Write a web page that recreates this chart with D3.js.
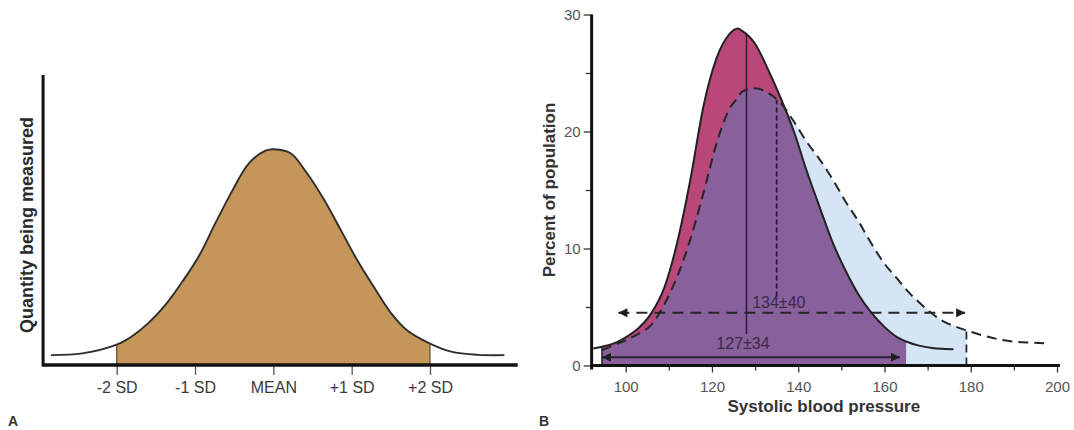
<!DOCTYPE html>
<html>
<head>
    <title>Normal distribution and systolic blood pressure</title>
    <script src="https://d3js.org/d3.v7.min.js"></script>
    <style>
        body {
            margin: 0;
            background: #fff;
            font-family: "Liberation Sans", Arial, sans-serif;
        }
        .tick text { font-family: "Liberation Sans", Arial, sans-serif; }
        .panel-letter { font-size: 14px; font-weight: bold; fill: #333; }
        .axis-title { font-size: 17px; font-weight: bold; fill: #333; }
    </style>
</head>
<body>
    <div id="chart"></div>
    <script>
        // Panel A: bell curve (x in SD units, y in % of axis height)
        const sdTicks = [-2, -1, 0, 1, 2];
        const sdLabels = ['-2 SD', '-1 SD', 'MEAN', '+1 SD', '+2 SD'];
        const aFrameX = [-2.94, 3.12];
        const aX = [-2.84, -2.44, -2.0, -1.80, -1.59, -1.37, -1.16, -0.95, -0.74, -0.52, -0.31, -0.10, 0.01,
                    0.22, 0.43, 0.65, 0.86, 1.07, 1.29, 1.50, 1.71, 2.0, 2.27, 2.61, 2.95];
        const aY = [3.4, 4.0, 7.0, 10.0, 14.6, 21.0, 28.8, 37.6, 48.9, 60.3, 69.6, 73.9, 74.4,
                    73.0, 66.1, 56.9, 46.6, 36.2, 26.6, 18.0, 11.9, 7.4, 4.6, 3.5, 3.4];

        // Panel B: systolic blood pressure distributions
        const bpX = [92.5, 94.5, 98, 100, 103, 106, 109, 112, 115, 118, 121, 124, 126, 127, 130, 133, 136, 139,
                     142, 145, 148, 151, 154, 157, 160, 163, 165, 168, 171, 174, 176, 179, 183, 187, 191, 194, 197];
        const solidPct = [1.45, 1.6, 2.0, 2.4, 3.2, 4.5, 6.7, 10.6, 15.9, 22.1, 26.2, 28.3, 28.8, 28.6, 27.5, 25.3, 22.8, 20.0,
                          16.6, 13.5, 10.5, 8.1, 6.05, 4.5, 3.3, 2.4, 2.05, 1.7, 1.5, 1.42, 1.38, null, null, null, null, null, null];
        const dashedPct = [null, 1.3, 1.85, 2.15, 2.72, 3.5, 5.25, 7.65, 10.8, 14.7, 18.9, 21.9, 22.9, 23.4, 23.7, 23.3, 22.4, 20.85,
                           19.1, 17.6, 15.9, 14.0, 12.3, 10.4, 8.7, 7.4, 6.5, 5.4, 4.45, 3.7, 3.4, 3.0, 2.55, 2.2, 2.0, 1.95, 1.9];
        const bpTicks = [100, 120, 140, 160, 180, 200];
        const bpMinor = [110, 130, 150, 170, 190];
        const pctTicks = [0, 10, 20, 30];
        const pctMinor = [5, 15, 25];
        const bFrameX = [92.1, 200.7];
        const fillStart = 94.5;
        const solidFillEnd = 165;
        const dashedFillEnd = 179;
        const meanMarks = [
            { x: 128, y0: 2.7, y1: 28.3, dashed: false },
            { x: 135, y0: 5.9, y1: 22.7, dashed: true }
        ];
        const rangeArrows = [
            { x0: 98.3, x1: 178.7, y: 4.5, dashed: true },
            { x0: 94.5, x1: 163.6, y: 0.7, dashed: false }
        ];
        const statLabels = [
            { text: '134\u00b140', x: 135.5, y: 4.9 },
            { text: '127\u00b134', x: 127.2, y: 1.4 }
        ];

        const width = 1074;
        const height = 430;

        const svg = d3.select('#chart')
            .append('svg')
            .attr('width', width)
            .attr('height', height);

        const defs = svg.append('defs');
        defs.append('marker')
            .attr('id', 'arrow')
            .attr('viewBox', '0 0 10 10')
            .attr('refX', 10)
            .attr('refY', 5)
            .attr('markerWidth', 10)
            .attr('markerHeight', 9)
            .attr('markerUnits', 'userSpaceOnUse')
            .attr('orient', 'auto-start-reverse')
            .append('path')
            .attr('d', 'M0,0 L10,5 L0,10 Z')
            .attr('fill', '#1e1e1e');

        // ---------- Panel A ----------
        const xA = d3.scaleLinear().domain([-2, 2]).range([116.7, 430]);
        const yA = d3.scaleLinear().domain([0, 100]).range([365, 75]);
        const gA = svg.append('g');

        const ptsA = aX.map((x, i) => ({ x: x, y: aY[i] }));
        const fillPtsA = ptsA.filter(d => d.x >= sdTicks[0] && d.x <= sdTicks[sdTicks.length - 1]);
        const smoothA = d3.curveCatmullRom.alpha(0.5);

        gA.append('path')
            .datum(fillPtsA)
            .attr('fill', '#c4965a')
            .attr('d', d3.area()
                .x(d => xA(d.x))
                .y0(yA(0))
                .y1(d => yA(d.y))
                .curve(smoothA));

        // edges of the shaded band
        gA.selectAll('.edge')
            .data([fillPtsA[0], fillPtsA[fillPtsA.length - 1]])
            .join('line')
            .attr('x1', d => xA(d.x)).attr('x2', d => xA(d.x))
            .attr('y1', yA(0)).attr('y2', d => yA(d.y))
            .attr('stroke', '#5a4a30')
            .attr('stroke-width', 1.2);

        gA.append('path')
            .datum(ptsA)
            .attr('fill', 'none')
            .attr('stroke', '#2e2e2e')
            .attr('stroke-width', 1.9)
            .attr('d', d3.line()
                .x(d => xA(d.x))
                .y(d => yA(d.y))
                .curve(smoothA));

        const axA = gA.append('g')
            .attr('transform', `translate(0,${yA(0)})`)
            .call(d3.axisBottom(xA)
                .tickValues(sdTicks)
                .tickFormat((d, i) => sdLabels[i])
                .tickSize(10)
                .tickSizeOuter(0));
        axA.select('.domain').remove();
        axA.selectAll('line').attr('stroke', '#555').attr('stroke-width', 1.3);
        axA.selectAll('text')
            .attr('y', 28).attr('dy', 0)
            .attr('fill', '#3a3a3a')
            .style('font-size', '16px');

        gA.append('line')
            .attr('x1', xA(aFrameX[0])).attr('x2', xA(aFrameX[1]))
            .attr('y1', yA(0)).attr('y2', yA(0))
            .attr('stroke', '#111').attr('stroke-width', 3.5);
        gA.append('line')
            .attr('x1', xA(aFrameX[0])).attr('x2', xA(aFrameX[0]))
            .attr('y1', yA(0) + 1.5).attr('y2', yA(100))
            .attr('stroke', '#111').attr('stroke-width', 3);

        gA.append('text')
            .attr('transform', `translate(33,${(yA(0) + yA(100)) / 2 + 5}) rotate(-90)`)
            .attr('text-anchor', 'middle')
            .attr('fill', '#2a2a2a')
            .style('font-size', '18px')
            .style('font-weight', '600')
            .text('Quantity being measured');

        gA.append('text')
            .attr('class', 'panel-letter')
            .attr('x', 8).attr('y', 426)
            .text('A');

        // ---------- Panel B ----------
        const xB = d3.scaleLinear().domain([100, 200]).range([625.7, 1057]);
        const yB = d3.scaleLinear().domain([0, 30]).range([365.5, 14.5]);
        const gB = svg.append('g');

        const ptsB = bpX.map((x, i) => ({ x: x, s: solidPct[i], d: dashedPct[i] }));
        const areaB = d3.area()
            .x(d => xB(d.x))
            .y0(yB(0))
            .y1(d => yB(d.v))
            .curve(d3.curveMonotoneX);

        const bluePts = ptsB.filter(p => p.d != null && p.x >= fillStart && p.x <= dashedFillEnd).map(p => ({ x: p.x, v: p.d }));
        const redPts = ptsB.filter(p => p.s != null && p.x >= fillStart && p.x <= solidFillEnd).map(p => ({ x: p.x, v: p.s }));
        const purplePts = ptsB.filter(p => p.s != null && p.d != null && p.x >= fillStart && p.x <= solidFillEnd)
            .map(p => ({ x: p.x, v: Math.min(p.s, p.d) }));

        gB.append('path').datum(bluePts).attr('fill', '#d5e5f5').attr('d', areaB);
        gB.append('path').datum(redPts).attr('fill', '#b9477a').attr('d', areaB);
        gB.append('path').datum(purplePts).attr('fill', '#87609c').attr('d', areaB);

        // left edge of the fills and the dashed cut-off at 180
        gB.append('line')
            .attr('x1', xB(fillStart)).attr('x2', xB(fillStart))
            .attr('y1', yB(0)).attr('y2', yB(redPts[0].v))
            .attr('stroke', '#222').attr('stroke-width', 1.5);
        gB.append('line')
            .attr('x1', xB(dashedFillEnd)).attr('x2', xB(dashedFillEnd))
            .attr('y1', yB(0)).attr('y2', yB(bluePts[bluePts.length - 1].v))
            .attr('stroke', '#2a2a2a').attr('stroke-width', 1.8)
            .attr('stroke-dasharray', '8,5');

        const lineB = d3.line()
            .x(d => xB(d.x))
            .y(d => yB(d.v))
            .curve(d3.curveMonotoneX);

        gB.append('path')
            .datum(ptsB.filter(p => p.s != null).map(p => ({ x: p.x, v: p.s })))
            .attr('fill', 'none')
            .attr('stroke', '#222')
            .attr('stroke-width', 2)
            .attr('d', lineB);

        gB.append('path')
            .datum(ptsB.filter(p => p.d != null).map(p => ({ x: p.x, v: p.d })))
            .attr('fill', 'none')
            .attr('stroke', '#262626')
            .attr('stroke-width', 2)
            .attr('stroke-dasharray', '10,6')
            .attr('d', lineB);

        gB.selectAll('.mean')
            .data(meanMarks)
            .join('line')
            .attr('x1', d => xB(d.x)).attr('x2', d => xB(d.x))
            .attr('y1', d => yB(d.y0)).attr('y2', d => yB(d.y1))
            .attr('stroke', '#2a1c33')
            .attr('stroke-width', d => d.dashed ? 1.8 : 1.5)
            .attr('stroke-dasharray', d => d.dashed ? '5,3' : null);

        gB.selectAll('.range')
            .data(rangeArrows)
            .join('line')
            .attr('x1', d => xB(d.x0)).attr('x2', d => xB(d.x1))
            .attr('y1', d => yB(d.y)).attr('y2', d => yB(d.y))
            .attr('stroke', d => d.dashed ? '#262626' : '#2a1c33')
            .attr('stroke-width', 2)
            .attr('stroke-dasharray', d => d.dashed ? '11,7' : null)
            .attr('marker-start', 'url(#arrow)')
            .attr('marker-end', 'url(#arrow)');

        gB.selectAll('.stat')
            .data(statLabels)
            .join('text')
            .attr('x', d => xB(d.x))
            .attr('y', d => yB(d.y))
            .attr('text-anchor', 'middle')
            .attr('fill', '#3a2a44')
            .style('font-size', '16px')
            .text(d => d.text);

        // axes
        const axBx = gB.append('g')
            .attr('transform', `translate(0,${yB(0)})`)
            .call(d3.axisBottom(xB).tickValues(bpTicks).tickSize(7).tickSizeOuter(0));
        axBx.select('.domain').remove();
        axBx.selectAll('line').attr('stroke', '#333').attr('stroke-width', 1.3);
        axBx.selectAll('text')
            .attr('y', 26.5).attr('dy', 0)
            .attr('fill', '#555')
            .style('font-size', '15px');

        const axBxMinor = gB.append('g')
            .attr('transform', `translate(0,${yB(0)})`)
            .call(d3.axisBottom(xB).tickValues(bpMinor).tickSize(5).tickFormat(''));
        axBxMinor.select('.domain').remove();
        axBxMinor.selectAll('line').attr('stroke', '#333').attr('stroke-width', 1.3);

        const axBy = gB.append('g')
            .attr('transform', `translate(${xB(bFrameX[0])},0)`)
            .call(d3.axisLeft(yB).tickValues(pctTicks).tickSize(8).tickPadding(3).tickSizeOuter(0));
        axBy.select('.domain').remove();
        axBy.selectAll('line').attr('stroke', '#333').attr('stroke-width', 1.3);
        axBy.selectAll('text')
            .attr('fill', '#555')
            .style('font-size', '15px');

        const axByMinor = gB.append('g')
            .attr('transform', `translate(${xB(bFrameX[0])},0)`)
            .call(d3.axisLeft(yB).tickValues(pctMinor).tickSize(6).tickFormat(''));
        axByMinor.select('.domain').remove();
        axByMinor.selectAll('line').attr('stroke', '#333').attr('stroke-width', 1.3);

        gB.append('line')
            .attr('x1', xB(bFrameX[0]) - 1.5).attr('x2', xB(bFrameX[1]))
            .attr('y1', yB(0)).attr('y2', yB(0))
            .attr('stroke', '#111').attr('stroke-width', 3);
        gB.append('line')
            .attr('x1', xB(bFrameX[0])).attr('x2', xB(bFrameX[0]))
            .attr('y1', yB(0) + 4).attr('y2', yB(30))
            .attr('stroke', '#111').attr('stroke-width', 3);

        gB.append('text')
            .attr('class', 'axis-title')
            .attr('x', xB((bFrameX[0] + bFrameX[1]) / 2) - 2)
            .attr('y', 412)
            .attr('text-anchor', 'middle')
            .text('Systolic blood pressure');

        gB.append('text')
            .attr('class', 'axis-title')
            .attr('transform', `translate(555,${(yB(0) + yB(30)) / 2}) rotate(-90)`)
            .attr('text-anchor', 'middle')
            .text('Percent of population');

        gB.append('text')
            .attr('class', 'panel-letter')
            .attr('x', 539).attr('y', 426)
            .text('B');
    </script>
</body>
</html>
